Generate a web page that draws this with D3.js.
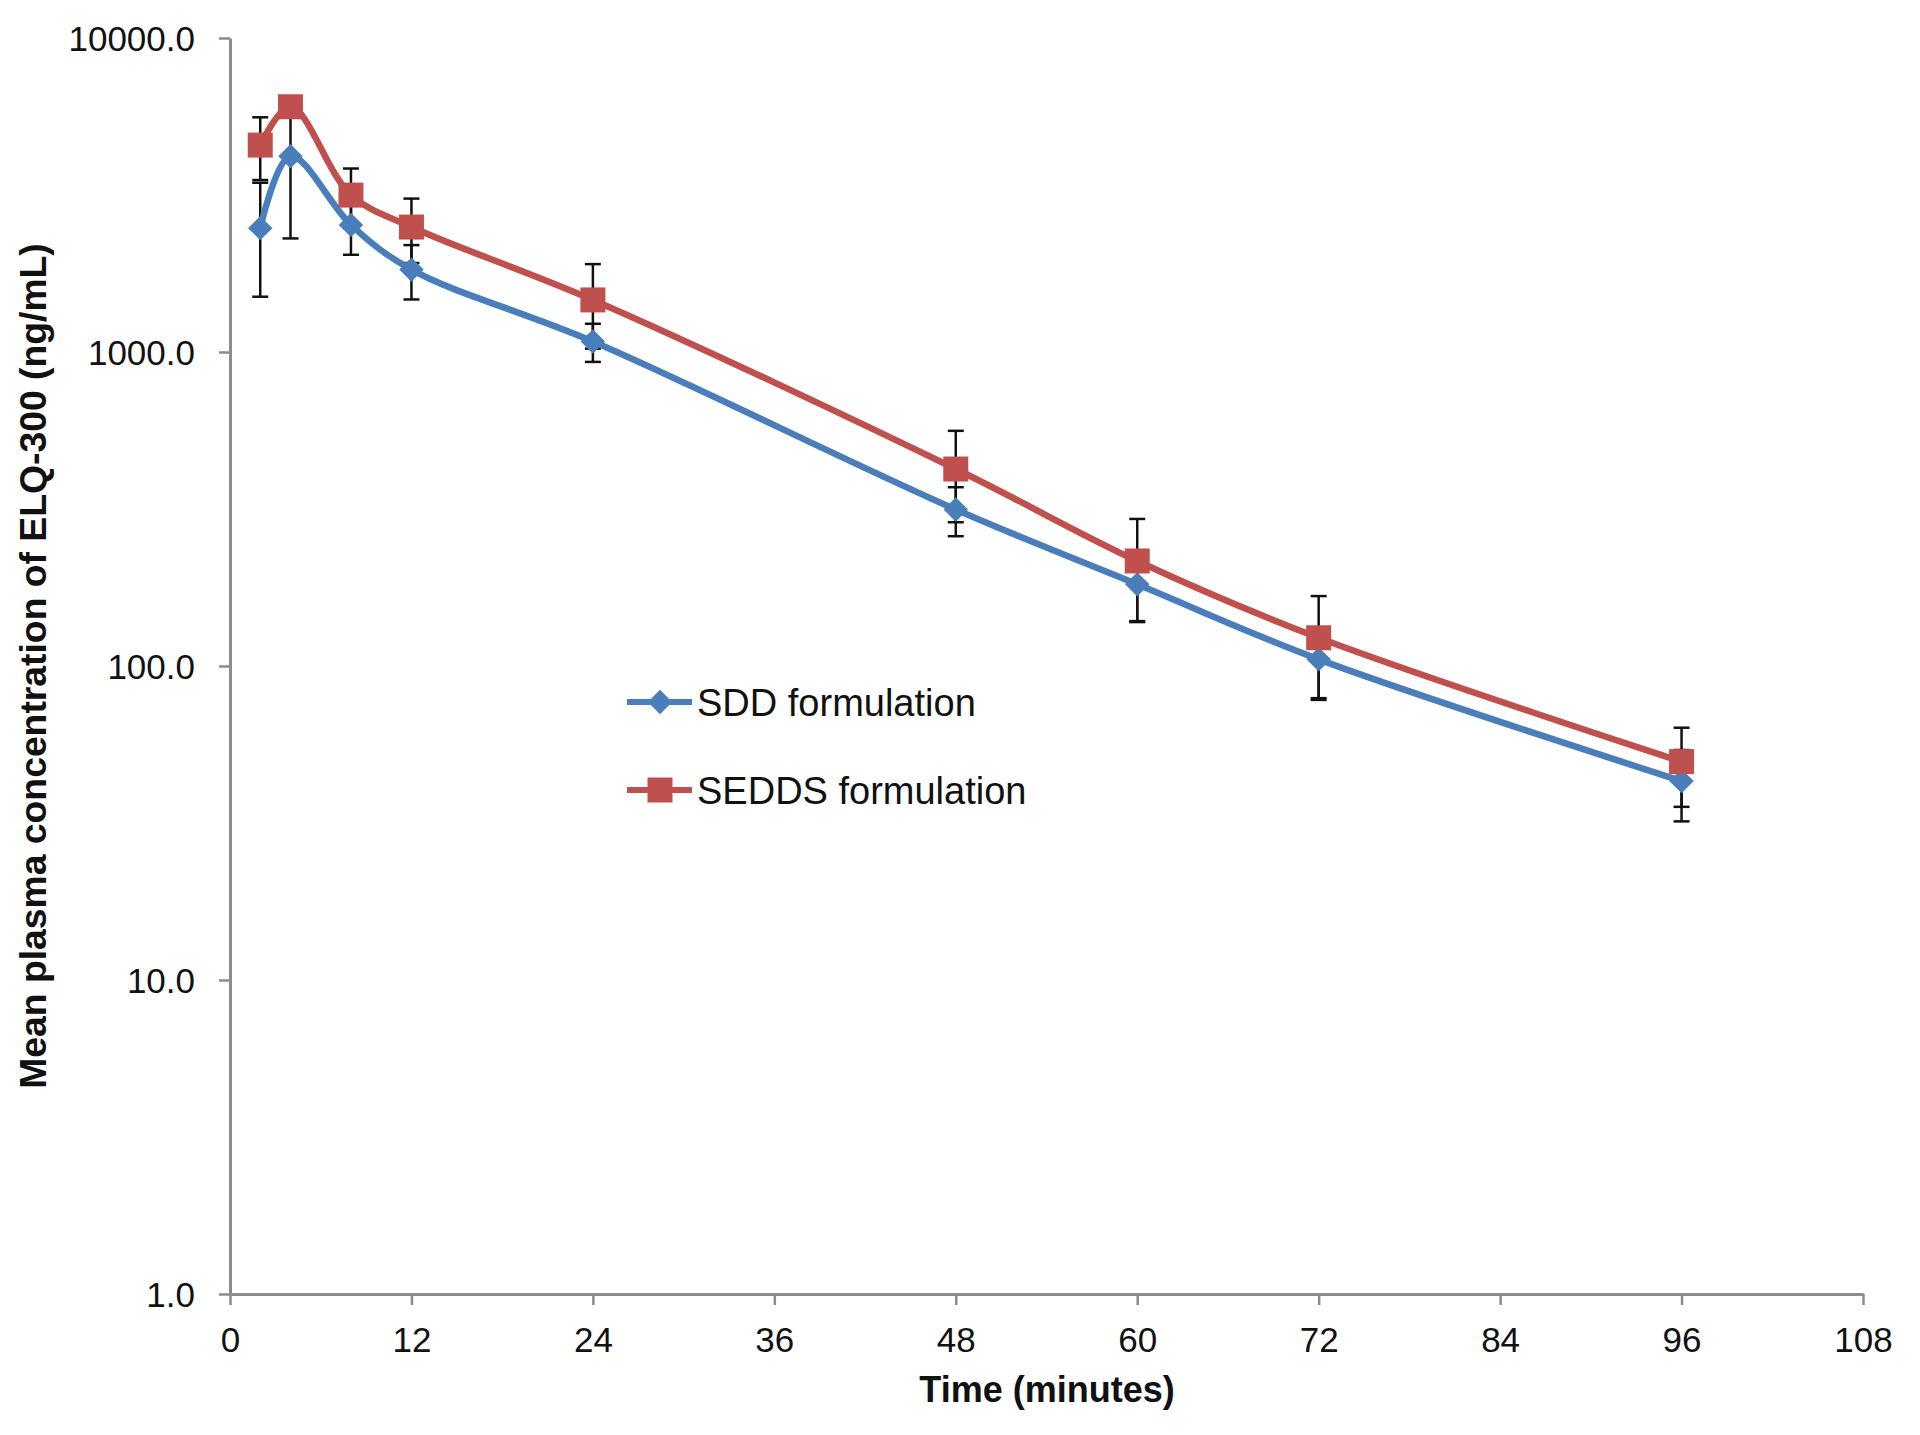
<!DOCTYPE html>
<html><head><meta charset="utf-8">
<script src="https://cdn.jsdelivr.net/npm/d3@7"></script>
<style>body{margin:0;background:#fff}svg{display:block}text{font-family:"Liberation Sans",Arial,sans-serif}</style>
</head><body>
<svg id="c" width="1920" height="1435"></svg>
<script>
const times = [2, 4, 8, 12, 24, 48, 60, 72, 96];
const sddMean = [2480, 4200, 2540, 1830, 1080, 315, 182, 105, 43];
const sddSD   = [980, 1900, 500, 360, 150, 56, 43, 27, 11];
const seddsMean = [4560, 6040, 3160, 2500, 1465, 424, 216, 123, 49.6];
const seddsSD   = [1030, 400, 680, 580, 440, 137, 78, 44, 14];
const xTicks = [0, 12, 24, 36, 48, 60, 72, 84, 96, 108];
const yTicks = [1, 10, 100, 1000, 10000];
const seriesNames = ["SDD formulation", "SEDDS formulation"];

const svg = d3.select("#c");
const x = d3.scaleLinear().domain([0, 108]).range([230, 1863]);
const y = d3.scaleLog().domain([1, 10000]).range([1294, 38]);
const axisColor = "#8c8c8c";

// axes
const gx = svg.append("g").attr("transform", "translate(0,1294)")
  .call(d3.axisBottom(x).tickValues(xTicks).tickSize(11).tickSizeOuter(0).tickFormat(d3.format("d")));
const gy = svg.append("g").attr("transform", "translate(230,0)")
  .call(d3.axisLeft(y).tickValues(yTicks).tickSize(11).tickSizeOuter(0).tickFormat(d3.format(".1f")));
[gx, gy].forEach(g => {
  g.select(".domain").attr("stroke", axisColor).attr("stroke-width", 3);
  g.selectAll(".tick line").attr("stroke", axisColor).attr("stroke-width", 2.5);
  g.selectAll(".tick text").attr("fill", "#111").attr("font-size", 35);
});
gx.selectAll(".tick text").attr("y", 58).attr("dy", 0);
gy.selectAll(".tick text").attr("x", -35).attr("dy", "0.36em");

// titles
svg.append("text").attr("x", 1047).attr("y", 1402).attr("text-anchor", "middle")
  .attr("font-size", 36).attr("font-weight", "bold").attr("fill", "#111").text("Time (minutes)");
svg.append("text").attr("transform", "translate(46,666) rotate(-90)").attr("text-anchor", "middle")
  .attr("font-size", 37.3).attr("font-weight", "bold").attr("fill", "#111")
  .text("Mean plasma concentration of ELQ-300 (ng/mL)");

const series = [
  {name: seriesNames[0], mean: sddMean, sd: sddSD, color: "#4a7ebb", marker: "diamond"},
  {name: seriesNames[1], mean: seddsMean, sd: seddsSD, color: "#c0504d", marker: "square"}
];

// error bars
series.forEach(s => {
  const g = svg.append("g").attr("stroke", "#111").attr("stroke-width", 2.5);
  times.forEach((t, i) => {
    const cx = x(t), y0 = y(s.mean[i] + s.sd[i]), y1 = y(Math.max(s.mean[i] - s.sd[i], 1));
    g.append("line").attr("x1", cx).attr("x2", cx).attr("y1", y0).attr("y2", y1);
    g.append("line").attr("x1", cx - 8).attr("x2", cx + 8).attr("y1", y0).attr("y2", y0);
    g.append("line").attr("x1", cx - 8).attr("x2", cx + 8).attr("y1", y1).attr("y2", y1);
  });
});

const line = d3.line().x(d => x(d[0])).y(d => y(d[1])).curve(d3.curveCatmullRom.alpha(0.5));
const diamond = d3.symbol().type(d3.symbolDiamond2).size(380);
function drawMarker(g, m, cx, cy, color) {
  if (m === "square") {
    g.append("rect").attr("x", cx - 12.5).attr("y", cy - 12.5).attr("width", 25).attr("height", 25).attr("fill", color);
  } else {
    g.append("path").attr("d", diamond()).attr("transform", `translate(${cx},${cy})`).attr("fill", color);
  }
}
series.forEach(s => {
  svg.append("path").datum(times.map((t, i) => [t, s.mean[i]]))
    .attr("d", line).attr("fill", "none").attr("stroke", s.color).attr("stroke-width", 6.5)
    .attr("stroke-linejoin", "round");
});
series.forEach(s => {
  const g = svg.append("g");
  times.forEach((t, i) => drawMarker(g, s.marker, x(t), y(s.mean[i]), s.color));
});

// legend
const legY = [702, 790];
series.forEach((s, i) => {
  const g = svg.append("g");
  g.append("line").attr("x1", 627).attr("x2", 692).attr("y1", legY[i]).attr("y2", legY[i])
    .attr("stroke", s.color).attr("stroke-width", 6);
  drawMarker(g, s.marker, 660, legY[i], s.color);
  g.append("text").attr("x", 697).attr("y", legY[i]).attr("dy", "0.36em")
    .attr("font-size", 38).attr("fill", "#111").text(s.name);
});
</script>
</body></html>
